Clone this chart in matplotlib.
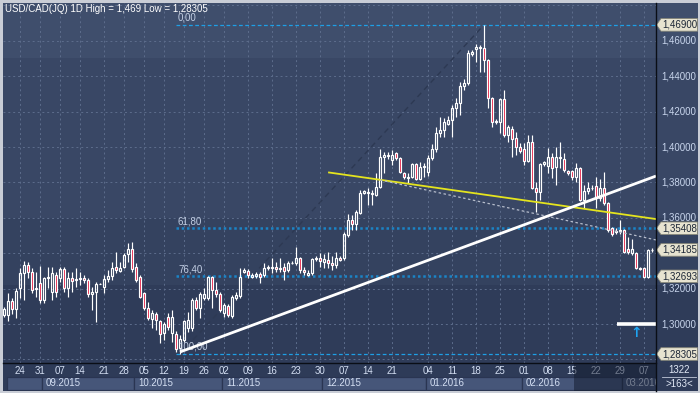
import matplotlib
matplotlib.use('Agg')
import matplotlib.pyplot as plt
from matplotlib.patches import Rectangle, Polygon
from matplotlib.lines import Line2D
import numpy as np

plt.rcParams['font.family'] = ['Liberation Sans', 'DejaVu Sans']

# ---------------- data ----------------
opens = [1.3051, 1.3051, 1.3130, 1.3085, 1.3203, 1.3288, 1.3333, 1.3294, 1.3198, 1.3232,
         1.3136, 1.3260, 1.3181, 1.3277, 1.3260, 1.3311, 1.3203, 1.3260, 1.3249, 1.3254,
         1.3260, 1.3249, 1.3170, 1.3181, 1.3226, 1.3209, 1.3254, 1.3271, 1.3322, 1.3300,
         1.3322, 1.3395, 1.3424, 1.3322, 1.3266, 1.3175, 1.3090, 1.3028, 1.3056, 1.3017,
         1.2949, 1.3040, 1.2949, 1.2944, 1.2864, 1.2910, 1.2977, 1.2977, 1.3136, 1.3090,
         1.3147, 1.3147, 1.3266, 1.3192, 1.3170, 1.3062, 1.3102, 1.3045, 1.3147, 1.3158,
         1.3294, 1.3300, 1.3266, 1.3271, 1.3283, 1.3277, 1.3316, 1.3316, 1.3322, 1.3311,
         1.3322, 1.3305, 1.3345, 1.3345, 1.3373, 1.3305, 1.3277, 1.3288, 1.3367, 1.3373,
         1.3350, 1.3362, 1.3345, 1.3333, 1.3373, 1.3373, 1.3503, 1.3588, 1.3565, 1.3627,
         1.3740, 1.3740, 1.3734, 1.3729, 1.3774, 1.3944, 1.3955, 1.3927, 1.3966, 1.3938,
         1.3853, 1.3825, 1.3830, 1.3904, 1.3819, 1.3887, 1.3859, 1.3938, 1.3989, 1.4079,
         1.4096, 1.4130, 1.4153, 1.4220, 1.4249, 1.4345, 1.4362, 1.4525, 1.4554, 1.4560,
         1.4559, 1.4492, 1.4277, 1.4141, 1.4141, 1.4271, 1.4068, 1.4102, 1.4051, 1.4000,
         1.3989, 1.3921, 1.4028, 1.3768, 1.3746, 1.3904, 1.3893, 1.3944, 1.3887, 1.3938,
         1.3932, 1.3865, 1.3865, 1.3830, 1.3881, 1.3701, 1.3751, 1.3766, 1.3779, 1.3712,
         1.3768, 1.3684, 1.3543, 1.3520, 1.3528, 1.3531, 1.3424, 1.3401, 1.3401, 1.3316,
         1.3316, 1.3266, 1.3418]
highs = [1.3095, 1.3175, 1.3147, 1.3203, 1.3316, 1.3356, 1.3350, 1.3316, 1.3294, 1.3328,
         1.3266, 1.3322, 1.3322, 1.3294, 1.3322, 1.3322, 1.3294, 1.3294, 1.3316, 1.3294,
         1.3277, 1.3260, 1.3209, 1.3237, 1.3230, 1.3277, 1.3305, 1.3350, 1.3407, 1.3350,
         1.3401, 1.3458, 1.3463, 1.3345, 1.3277, 1.3181, 1.3124, 1.3079, 1.3068, 1.3023,
         1.3011, 1.3062, 1.3079, 1.2960, 1.2938, 1.3023, 1.3068, 1.3147, 1.3153, 1.3181,
         1.3203, 1.3271, 1.3271, 1.3237, 1.3181, 1.3119, 1.3113, 1.3164, 1.3181, 1.3316,
         1.3316, 1.3311, 1.3288, 1.3294, 1.3294, 1.3345, 1.3333, 1.3373, 1.3350, 1.3373,
         1.3345, 1.3356, 1.3356, 1.3435, 1.3379, 1.3322, 1.3305, 1.3373, 1.3384, 1.3401,
         1.3395, 1.3407, 1.3384, 1.3407, 1.3384, 1.3520, 1.3622, 1.3616, 1.3644, 1.3757,
         1.3757, 1.3768, 1.3757, 1.3853, 1.3989, 1.3972, 1.3972, 1.3983, 1.3972, 1.3944,
         1.3859, 1.3853, 1.3910, 1.3910, 1.3915, 1.3910, 1.3955, 1.4017, 1.4113, 1.4170,
         1.4164, 1.4175, 1.4237, 1.4277, 1.4367, 1.4384, 1.4548, 1.4548, 1.4582, 1.4576,
         1.4690, 1.4497, 1.4282, 1.4158, 1.4277, 1.4322, 1.4124, 1.4119, 1.4085, 1.4023,
         1.4023, 1.4068, 1.4068, 1.3802, 1.3910, 1.3921, 1.3995, 1.3966, 1.4000, 1.4028,
         1.3966, 1.3870, 1.3870, 1.3910, 1.3887, 1.3785, 1.3802, 1.3785, 1.3830, 1.3819,
         1.3859, 1.3690, 1.3548, 1.3543, 1.3588, 1.3537, 1.3492, 1.3480, 1.3407, 1.3322,
         1.3322, 1.3424, 1.3430]
lows = [1.3040, 1.3017, 1.3057, 1.3034, 1.3147, 1.3136, 1.3260, 1.3175, 1.3153, 1.3119,
        1.3119, 1.3203, 1.3136, 1.3153, 1.3237, 1.3181, 1.3153, 1.3181, 1.3209, 1.3220,
        1.3232, 1.3153, 1.3079, 1.3011, 1.3224, 1.3175, 1.3237, 1.3249, 1.3288, 1.3294,
        1.3316, 1.3350, 1.3294, 1.3237, 1.3147, 1.3079, 1.3023, 1.2977, 1.2966, 1.2893,
        1.2910, 1.2966, 1.2898, 1.2842, 1.28305, 1.2898, 1.2955, 1.2960, 1.3079, 1.3034,
        1.3136, 1.3136, 1.3090, 1.3153, 1.3068, 1.3040, 1.3040, 1.3034, 1.3136, 1.3147,
        1.3288, 1.3260, 1.3260, 1.3260, 1.3232, 1.3266, 1.3305, 1.3288, 1.3294, 1.3294,
        1.3249, 1.3294, 1.3339, 1.3333, 1.3288, 1.3277, 1.3271, 1.3277, 1.3356, 1.3322,
        1.3316, 1.3316, 1.3305, 1.3316, 1.3356, 1.3362, 1.3492, 1.3531, 1.3531, 1.3622,
        1.3734, 1.3672, 1.3672, 1.3723, 1.3768, 1.3853, 1.3933, 1.3898, 1.3927, 1.3853,
        1.3819, 1.3797, 1.3825, 1.3814, 1.3814, 1.3830, 1.3836, 1.3927, 1.3972, 1.4057,
        1.4057, 1.4124, 1.4057, 1.4170, 1.4181, 1.4322, 1.4350, 1.4514, 1.4480, 1.4424,
        1.4424, 1.4220, 1.4113, 1.4130, 1.4079, 1.4057, 1.4028, 1.3944, 1.3955, 1.3966,
        1.3898, 1.3915, 1.3762, 1.3633, 1.3701, 1.3893, 1.3853, 1.3825, 1.3785, 1.3881,
        1.3859, 1.3842, 1.3814, 1.3802, 1.3695, 1.3655, 1.3734, 1.3757, 1.3655, 1.3695,
        1.3672, 1.3520, 1.3497, 1.3509, 1.3509, 1.3401, 1.3396, 1.3390, 1.3311, 1.3305,
        1.3260, 1.3260, 1.3407]
closes = [1.3085, 1.3130, 1.3085, 1.3186, 1.3288, 1.3333, 1.3294, 1.3192, 1.3203, 1.3136,
          1.3260, 1.3266, 1.3288, 1.3181, 1.3311, 1.3203, 1.3260, 1.3243, 1.3254, 1.3260,
          1.3249, 1.3170, 1.3181, 1.3226, 1.3228, 1.3254, 1.3271, 1.3316, 1.3305, 1.3316,
          1.3390, 1.3424, 1.3311, 1.3249, 1.3153, 1.3090, 1.3034, 1.3062, 1.3023, 1.2944,
          1.3000, 1.2983, 1.3040, 1.2859, 1.2915, 1.3017, 1.3023, 1.3136, 1.3090, 1.3170,
          1.3170, 1.3266, 1.3192, 1.3170, 1.3079, 1.3107, 1.3051, 1.3153, 1.3164, 1.3266,
          1.3305, 1.3277, 1.3277, 1.3283, 1.3266, 1.3316, 1.3322, 1.3322, 1.3311, 1.3316,
          1.3300, 1.3345, 1.3347, 1.3373, 1.3305, 1.3294, 1.3288, 1.3367, 1.3373, 1.3356,
          1.3367, 1.3345, 1.3333, 1.3373, 1.3362, 1.3509, 1.3588, 1.3565, 1.3633, 1.3740,
          1.3751, 1.3745, 1.3740, 1.3774, 1.3944, 1.3955, 1.3950, 1.3955, 1.3938, 1.3859,
          1.3830, 1.3830, 1.3904, 1.3819, 1.3887, 1.3890, 1.3938, 1.3989, 1.4079, 1.4096,
          1.4141, 1.4153, 1.4220, 1.4249, 1.4345, 1.4362, 1.4531, 1.4537, 1.4565, 1.4565,
          1.4492, 1.4277, 1.4141, 1.4147, 1.4271, 1.4068, 1.4113, 1.4045, 1.4000, 1.3977,
          1.3921, 1.4028, 1.3768, 1.3746, 1.3904, 1.3915, 1.3944, 1.3881, 1.3944, 1.3944,
          1.3870, 1.3853, 1.3830, 1.3881, 1.3701, 1.3751, 1.3768, 1.3770, 1.3712, 1.3768,
          1.3684, 1.3531, 1.3509, 1.3523, 1.3531, 1.3407, 1.3407, 1.3424, 1.3316, 1.3311,
          1.3266, 1.3418, 1.34185]

week_pos = [4, 9, 14, 19, 25, 30, 35, 40, 45, 50, 55, 61, 67, 73, 79, 85, 91, 97,
            106, 112, 118, 124, 130, 136, 142, 148, 154, 160]
week_labels = ['24', '31', '07', '14', '21', '28', '05', '12', '19', '26', '02', '09',
               '16', '23', '30', '07', '14', '21', '04', '11', '18', '25', '01', '08',
               '15', '22', '29', '07']
month_pos = [10, 33, 55, 80, 106, 130, 155]
month_labels = ['09.2015', '10.2015', '11.2015', '12.2015', '01.2016', '02.2016', '03.2016']

ytick_vals = [1.30, 1.32, 1.36, 1.38, 1.40, 1.42, 1.44, 1.46]
ygrid_vals = [1.28, 1.30, 1.32, 1.34, 1.36, 1.38, 1.40, 1.42, 1.44, 1.46, 1.48]
fib_levels = [0.0, 61.8, 76.4, 100.0]
fib_start = 43
fib_low_idx, fib_high_idx = 44, 120
white_trend_x, white_trend_y = [44, 163], [1.2842, 1.3836]
yellow_trend_x, yellow_trend_y = [81.25, 163], [1.3856, 1.3593]
grey_trend_x, grey_trend_y = [94, 163], [1.3814, 1.3475]
alert_level, alert_start = 1.30, 153.25
alert_arrow_idx = 158
bars_total, bars_shown = 1322, 163
band_edges = [1.3220, 1.3599, 1.4503]

# ---------------- figure ----------------
W, H = 700, 393
YMIN, YMAX = 1.27797, 1.48136
XMIN, XMAX = -0.25, 163
FS = 7.0


def fr(x0, y0, x1, y1):
    return [x0 / W, 1 - y1 / H, (x1 - x0) / W, (y1 - y0) / H]


fig = plt.figure(figsize=(7, 3.93), dpi=100, facecolor='#c9cdd6')

band_cols = ['#2f3c59', '#34425f', '#394765', '#3f4e6c']
bounds = [YMIN] + band_edges + [YMAX]

# right price panel
axr = fig.add_axes(fr(656, 3, 698, 363))
axr.set_xlim(0, 42)
axr.set_ylim(YMIN, YMAX)
axr.axis('off')
for i in range(4):
    axr.axhspan(bounds[i], bounds[i + 1], color=band_cols[i], lw=0)

# main axes
ax = fig.add_axes(fr(3, 3, 656, 363))
ax.set_xlim(XMIN, XMAX)
ax.set_ylim(YMIN, YMAX)
for i in range(4):
    ax.axhspan(bounds[i], bounds[i + 1], color=band_cols[i], lw=0, zorder=0)
for s in ax.spines.values():
    s.set_visible(False)
ax.set_xticks(week_pos)
ax.set_yticks(ygrid_vals)
ax.tick_params(length=0, labelbottom=False, labelleft=False)
ax.grid(True, color='#5d6d8c', lw=0.7, ls=(0, (2, 3)), zorder=1)

n = len(opens)
x = np.arange(n)
o = np.array(opens); h = np.array(highs); l = np.array(lows); c = np.array(closes)
top = np.maximum(o, c)
bot = np.minimum(o, c)
up = c >= o

ax.vlines(x, top, h, color='white', lw=0.85, zorder=3)
ax.vlines(x, l, bot, color='white', lw=0.85, zorder=3)
fcols = ['none' if u else '#e3173e' for u in up]
ax.bar(x, top - bot, bottom=bot, width=0.74, color=fcols, edgecolor='white',
       linewidth=0.85, zorder=4)

# fibonacci
hi = max(highs)
lo = min(lows)
ax.plot([fib_low_idx, fib_high_idx], [lo, hi], color='#2d3953', lw=1.0,
        ls=(0, (4, 3)), zorder=2)
fib_vals = []
for lv in fib_levels:
    yv = hi - lv / 100 * (hi - lo)
    fib_vals.append(yv)
    if lv in (0.0, 100.0):
        ax.hlines(yv, fib_start, XMAX, color='#1e9fe6', lw=0.9, ls=(0, (3, 2)), zorder=2)
    else:
        ax.hlines(yv, fib_start, XMAX, color='#1b84c6', lw=1.8, ls=(0, (1, 1.1)), zorder=2)
    ax.annotate(f'{lv:.2f}'.replace('.', ','), (fib_start + 0.5, yv),
                xytext=(0, 1.5), textcoords='offset points', va='bottom', ha='left',
                color='#c3cfe4', fontsize=FS, zorder=5)

# trend lines
ax.plot(yellow_trend_x, yellow_trend_y, color='#e4e41e', lw=1.3, zorder=5)
ax.plot(grey_trend_x, grey_trend_y, color='#b6bdcc', lw=0.9, ls=(0, (2, 2)), zorder=5)
ax.plot(white_trend_x, white_trend_y, color='white', lw=2.0, zorder=6,
        solid_capstyle='butt')

# alert line + arrow
ax.hlines(alert_level, alert_start, XMAX, color='white', lw=2.6, zorder=6)
ax.text(alert_arrow_idx, alert_level - 0.0052, '\u2191', color='#1ea4f2',
        fontsize=10, fontweight='bold', family='DejaVu Sans',
        ha='center', va='center', zorder=6)


def fmt5(v):
    return f'{v:.5f}'.replace('.', ',')


# price axis labels
for v in ytick_vals:
    axr.text(5, v, fmt5(v), color='#c8d5ec', fontsize=FS, va='center', ha='left')

# price tags
last = closes[-1]
tag_vals = [hi, fib_vals[1], last, fib_vals[2], lo]
hh = 6.3 * (YMAX - YMIN) / 360
for v in tag_vals:
    poly = Polygon([(0.5, v), (5, v + hh), (41.5, v + hh), (41.5, v - hh), (5, v - hh)],
                   closed=True, fc='#e7e3d0', ec='#858578', lw=0.6, zorder=5)
    axr.add_patch(poly)
    axr.text(6, v, fmt5(v), color='#1c2636', fontsize=FS, va='center', ha='left', zorder=6)

# date strip
axs = fig.add_axes(fr(3, 363, 656, 391))
axs.set_xlim(XMIN, XMAX)
axs.set_ylim(28, 0)
axs.axis('off')
axs.add_patch(Rectangle((XMIN, 0), XMAX - XMIN, 28, color='#2e3b58', zorder=0))
for p, lab in zip(week_pos, week_labels):
    axs.text(p, 8, lab, color='#d3def2', fontsize=FS, ha='center', va='center', zorder=3)
edges = [XMIN + 1] + [m - 0.5 for m in month_pos] + [XMAX + 2]
labels_all = [''] + month_labels
for i in range(len(labels_all)):
    x0, x1 = edges[i], edges[i + 1]
    axs.add_patch(Rectangle((x0, 13.5), x1 - x0, 13.5, fc='#465679', ec='#2a3552',
                            lw=0.9, zorder=1))
    if labels_all[i]:
        axs.text(x0 + 1.0, 20.5, labels_all[i], color='#d3def2', fontsize=FS,
                 ha='left', va='center', zorder=3, clip_on=True)
axs.add_patch(Rectangle((142.5, 0), XMAX - 142.5, 28, fc='#121a2c', alpha=0.5,
                        lw=0, zorder=4))

# corner box
axc = fig.add_axes(fr(656, 363, 698, 391))
axc.set_xlim(0, 1)
axc.set_ylim(0, 1)
axc.axis('off')
axc.add_patch(Rectangle((0, 0), 1, 1, color='#2e3b58'))
axc.text(0.55, 0.74, str(bars_total), color='#e2e9f6', fontsize=FS, ha='center', va='center')
axc.text(0.55, 0.25, f'>{bars_shown}<', color='#e2e9f6', fontsize=FS, ha='center', va='center')
axc.plot([0.14, 0.95], [0.5, 0.5], color='#c0c8d8', lw=0.6)

# separator lines
fig.add_artist(Line2D([656 / W, 656 / W], [1 - 391 / H, 1 - 3 / H], color='#0a0e16', lw=1.0))
fig.add_artist(Line2D([3 / W, 656 / W], [1 - 363 / H, 1 - 363 / H], color='#0a0e16', lw=1.0))

# title
fig.text(5 / W, 1 - 8.5 / H,
         f"USD/CAD(JQ) 1D High = {str(hi).replace('.', ',')} Low = {str(lo).replace('.', ',')}",
         color='white', fontsize=FS, ha='left', va='center')

fig.savefig('out.png', dpi=100, facecolor=fig.get_facecolor())
